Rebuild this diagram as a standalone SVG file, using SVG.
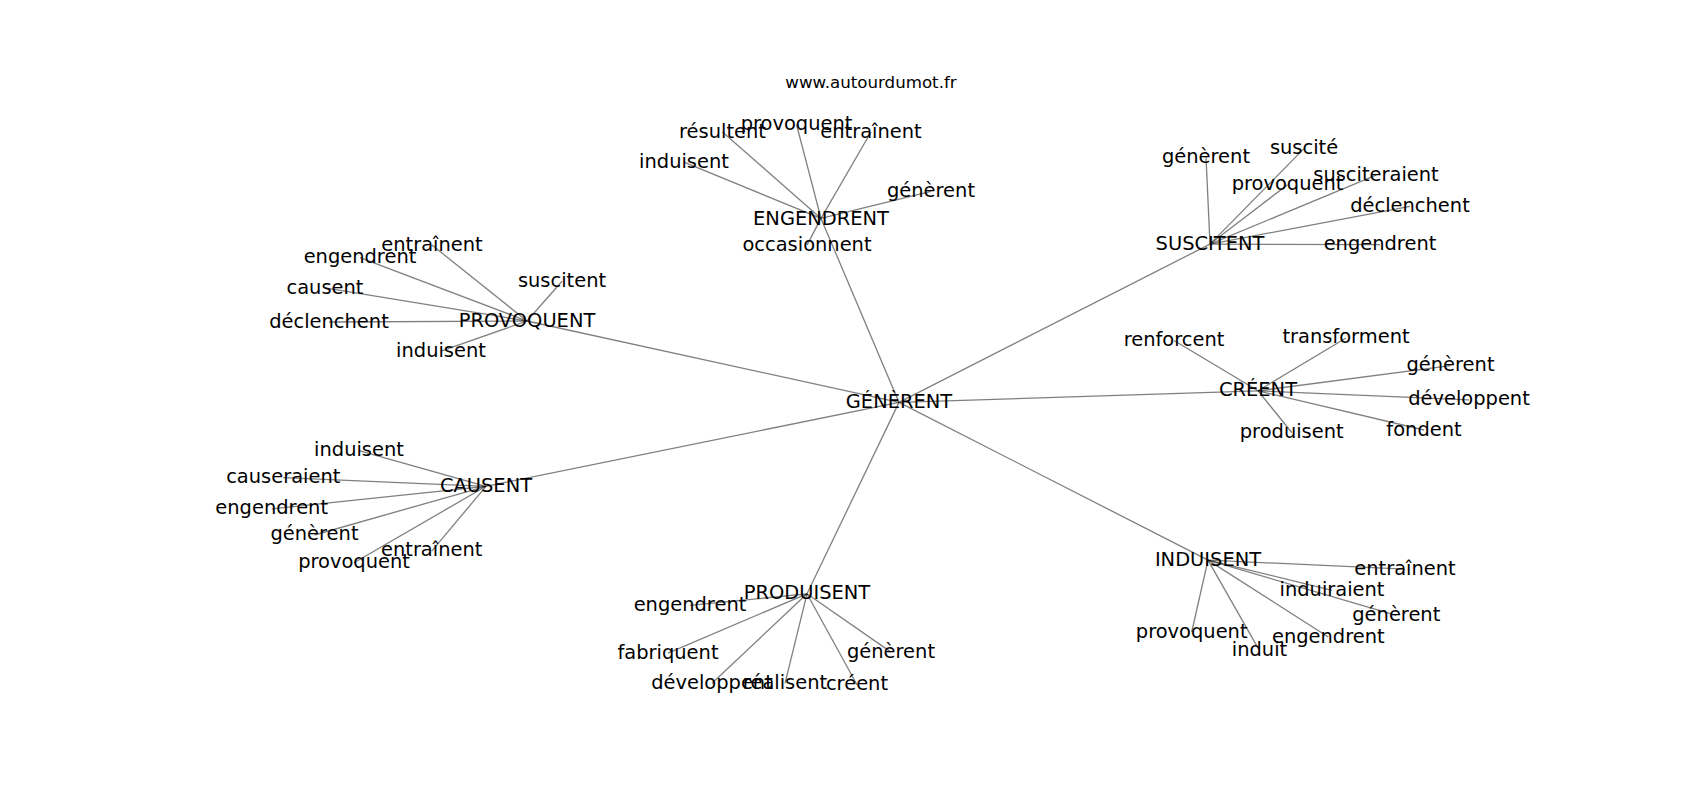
<svg xmlns="http://www.w3.org/2000/svg" width="1700" height="800" viewBox="0 0 1700 800">
<style>
.e{stroke:#000;stroke-opacity:0.5;stroke-width:1.3;fill:none}
.l{font-family:"DejaVu Sans",sans-serif;font-size:19.44px;fill:#000;text-anchor:middle}
.t{font-family:"DejaVu Sans",sans-serif;font-size:16.67px;fill:#000;text-anchor:middle}
</style>
<rect width="1700" height="800" fill="#fff"/>
<text class="t" x="871" y="88">www.autourdumot.fr</text>
<g id="edges">
<line class="e" x1="899" y1="402.4" x2="821" y2="218.4"/>
<line class="e" x1="899" y1="402.4" x2="1210" y2="244.1"/>
<line class="e" x1="899" y1="402.4" x2="527" y2="321"/>
<line class="e" x1="899" y1="402.4" x2="1258" y2="390.8"/>
<line class="e" x1="899" y1="402.4" x2="486" y2="486.3"/>
<line class="e" x1="899" y1="402.4" x2="1208" y2="560.1"/>
<line class="e" x1="899" y1="402.4" x2="807" y2="593.8"/>
<line class="e" x1="821" y1="218.4" x2="722.5" y2="132"/>
<line class="e" x1="821" y1="218.4" x2="796.5" y2="124.5"/>
<line class="e" x1="821" y1="218.4" x2="871" y2="132"/>
<line class="e" x1="821" y1="218.4" x2="684" y2="162.2"/>
<line class="e" x1="821" y1="218.4" x2="931" y2="191.3"/>
<line class="e" x1="821" y1="218.4" x2="807" y2="245.1"/>
<line class="e" x1="1210" y1="244.1" x2="1206" y2="157.1"/>
<line class="e" x1="1210" y1="244.1" x2="1304" y2="148.6"/>
<line class="e" x1="1210" y1="244.1" x2="1287.5" y2="184.8"/>
<line class="e" x1="1210" y1="244.1" x2="1376" y2="175.2"/>
<line class="e" x1="1210" y1="244.1" x2="1410" y2="206.4"/>
<line class="e" x1="1210" y1="244.1" x2="1380" y2="244.6"/>
<line class="e" x1="1258" y1="390.8" x2="1174" y2="340.5"/>
<line class="e" x1="1258" y1="390.8" x2="1346" y2="338"/>
<line class="e" x1="1258" y1="390.8" x2="1450.5" y2="365.7"/>
<line class="e" x1="1258" y1="390.8" x2="1469" y2="399.8"/>
<line class="e" x1="1258" y1="390.8" x2="1424" y2="430"/>
<line class="e" x1="1258" y1="390.8" x2="1291.7" y2="432.5"/>
<line class="e" x1="527" y1="321" x2="432" y2="245.1"/>
<line class="e" x1="527" y1="321" x2="360" y2="257.6"/>
<line class="e" x1="527" y1="321" x2="325" y2="287.8"/>
<line class="e" x1="527" y1="321" x2="329" y2="322"/>
<line class="e" x1="527" y1="321" x2="562" y2="281.3"/>
<line class="e" x1="527" y1="321" x2="441" y2="351.1"/>
<line class="e" x1="486" y1="486.3" x2="359" y2="450.6"/>
<line class="e" x1="486" y1="486.3" x2="283.3" y2="477.7"/>
<line class="e" x1="486" y1="486.3" x2="271.7" y2="508.9"/>
<line class="e" x1="486" y1="486.3" x2="314.5" y2="535"/>
<line class="e" x1="486" y1="486.3" x2="354" y2="562.7"/>
<line class="e" x1="486" y1="486.3" x2="431.7" y2="551.1"/>
<line class="e" x1="1208" y1="560.1" x2="1405" y2="569.2"/>
<line class="e" x1="1208" y1="560.1" x2="1332" y2="590.3"/>
<line class="e" x1="1208" y1="560.1" x2="1396.3" y2="615.4"/>
<line class="e" x1="1208" y1="560.1" x2="1328.3" y2="637"/>
<line class="e" x1="1208" y1="560.1" x2="1191.7" y2="632"/>
<line class="e" x1="1208" y1="560.1" x2="1259.5" y2="650.6"/>
<line class="e" x1="807" y1="593.8" x2="690" y2="605.4"/>
<line class="e" x1="807" y1="593.8" x2="668" y2="653.1"/>
<line class="e" x1="807" y1="593.8" x2="712" y2="683.3"/>
<line class="e" x1="807" y1="593.8" x2="785" y2="683.3"/>
<line class="e" x1="807" y1="593.8" x2="857" y2="684.8"/>
<line class="e" x1="807" y1="593.8" x2="891" y2="652.1"/>
</g>
<g id="n-generent"><text class="l" x="899" y="408.4">GÉNÈRENT</text></g>
<g id="n-engendrent"><text class="l" x="821" y="224.5">ENGENDRENT</text></g>
<g id="n-suscitent"><text class="l" x="1210" y="249.6">SUSCITENT</text></g>
<g id="n-provoquent"><text class="l" x="527" y="327">PROVOQUENT</text></g>
<g id="n-creent"><text class="l" x="1258" y="396.3">CRÉENT</text></g>
<g id="n-causent"><text class="l" x="486" y="491.8">CAUSENT</text></g>
<g id="n-induisent"><text class="l" x="1208" y="565.7">INDUISENT</text></g>
<g id="n-produisent"><text class="l" x="807" y="599.3">PRODUISENT</text></g>
<g id="n-eng-resultent"><text class="l" x="722.5" y="137.7">résultent</text></g>
<g id="n-eng-provoquent"><text class="l" x="796.5" y="130">provoquent</text></g>
<g id="n-eng-entrainent"><text class="l" x="871" y="137.7">entraînent</text></g>
<g id="n-eng-induisent"><text class="l" x="684" y="167.5">induisent</text></g>
<g id="n-eng-generent"><text class="l" x="931" y="197">génèrent</text></g>
<g id="n-eng-occasionnent"><text class="l" x="807" y="250.6">occasionnent</text></g>
<g id="n-sus-generent"><text class="l" x="1206" y="162.5">génèrent</text></g>
<g id="n-sus-suscite"><text class="l" x="1304" y="154.1">suscité</text></g>
<g id="n-sus-provoquent"><text class="l" x="1287.5" y="190.3">provoquent</text></g>
<g id="n-sus-susciteraient"><text class="l" x="1376" y="181">susciteraient</text></g>
<g id="n-sus-declenchent"><text class="l" x="1410" y="212.1">déclenchent</text></g>
<g id="n-sus-engendrent"><text class="l" x="1380" y="249.9">engendrent</text></g>
<g id="n-cre-renforcent"><text class="l" x="1174" y="346">renforcent</text></g>
<g id="n-cre-transforment"><text class="l" x="1346" y="343.4">transforment</text></g>
<g id="n-cre-generent"><text class="l" x="1450.5" y="371.2">génèrent</text></g>
<g id="n-cre-developpent"><text class="l" x="1469" y="405.4">développent</text></g>
<g id="n-cre-fondent"><text class="l" x="1424" y="435.5">fondent</text></g>
<g id="n-cre-produisent"><text class="l" x="1291.7" y="438.2">produisent</text></g>
<g id="n-pro-entrainent"><text class="l" x="432" y="250.6">entraînent</text></g>
<g id="n-pro-engendrent"><text class="l" x="360" y="263.4">engendrent</text></g>
<g id="n-pro-causent"><text class="l" x="325" y="293.5">causent</text></g>
<g id="n-pro-declenchent"><text class="l" x="329" y="327.7">déclenchent</text></g>
<g id="n-pro-suscitent"><text class="l" x="562" y="286.8">suscitent</text></g>
<g id="n-pro-induisent"><text class="l" x="441" y="356.7">induisent</text></g>
<g id="n-cau-induisent"><text class="l" x="359" y="455.9">induisent</text></g>
<g id="n-cau-causeraient"><text class="l" x="283.3" y="483.4">causeraient</text></g>
<g id="n-cau-engendrent"><text class="l" x="271.7" y="514.2">engendrent</text></g>
<g id="n-cau-generent"><text class="l" x="314.5" y="540.4">génèrent</text></g>
<g id="n-cau-provoquent"><text class="l" x="354" y="568.2">provoquent</text></g>
<g id="n-cau-entrainent"><text class="l" x="431.7" y="556.4">entraînent</text></g>
<g id="n-ind-entrainent"><text class="l" x="1405" y="574.9">entraînent</text></g>
<g id="n-ind-induiraient"><text class="l" x="1332" y="595.6">induiraient</text></g>
<g id="n-ind-generent"><text class="l" x="1396.3" y="620.7">génèrent</text></g>
<g id="n-ind-engendrent"><text class="l" x="1328.3" y="642.5">engendrent</text></g>
<g id="n-ind-provoquent"><text class="l" x="1191.7" y="637.5">provoquent</text></g>
<g id="n-ind-induit"><text class="l" x="1259.5" y="655.9">induit</text></g>
<g id="n-prd-engendrent"><text class="l" x="690" y="610.7">engendrent</text></g>
<g id="n-prd-fabriquent"><text class="l" x="668" y="658.6">fabriquent</text></g>
<g id="n-prd-developpent"><text class="l" x="712" y="688.8">développent</text></g>
<g id="n-prd-realisent"><text class="l" x="785" y="688.8">réalisent</text></g>
<g id="n-prd-creent"><text class="l" x="857" y="690.1">créent</text></g>
<g id="n-prd-generent"><text class="l" x="891" y="657.6">génèrent</text></g>
</svg>
